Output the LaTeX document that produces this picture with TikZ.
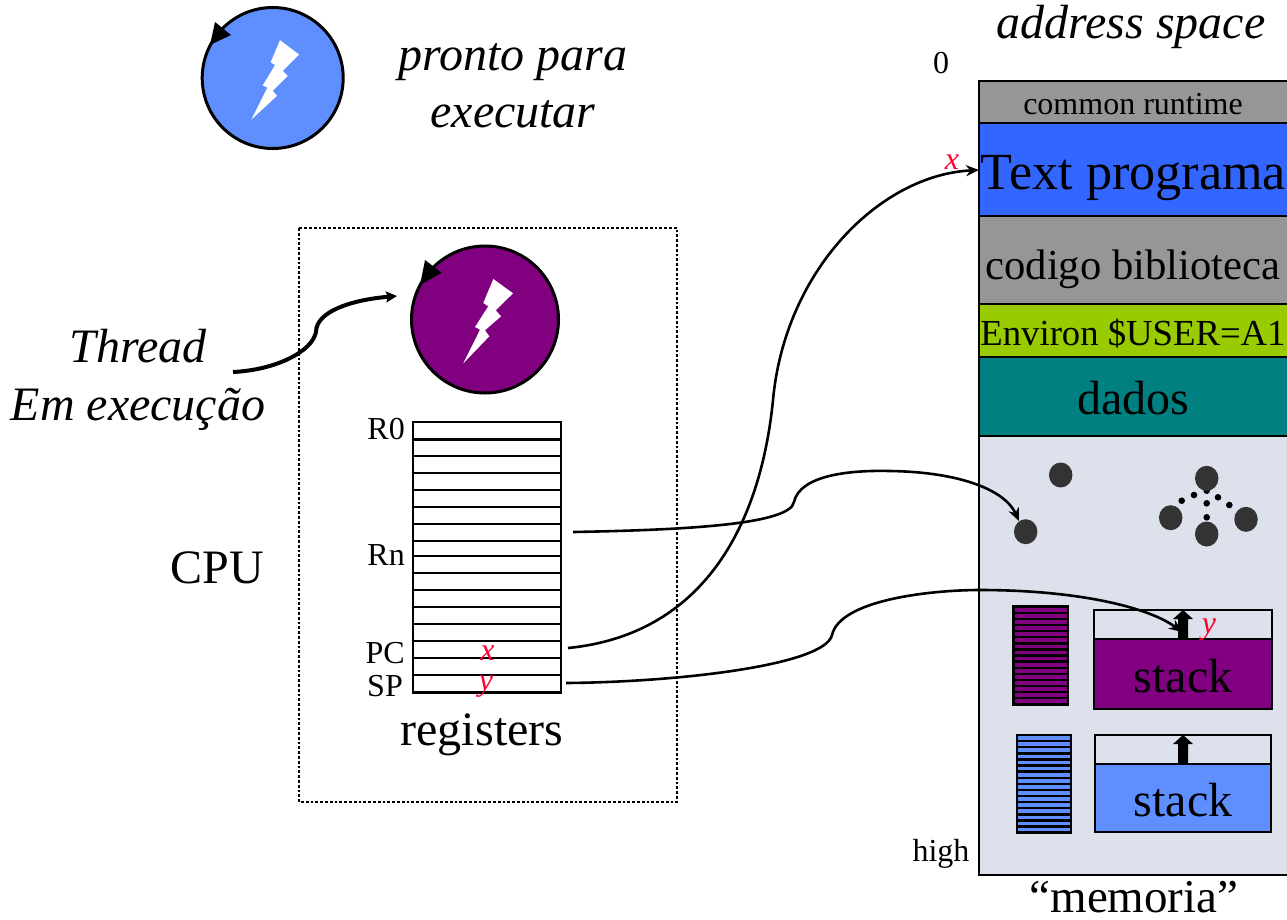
\documentclass[tikz,border=0pt]{standalone}
\usepackage{fontspec}
\setmainfont{Liberation Serif}
\usetikzlibrary{arrows.meta,shapes.geometric}
\definecolor{ltblue}{HTML}{5F8FFF}
\definecolor{txtblue}{HTML}{3366FF}
\definecolor{purp}{HTML}{800080}
\definecolor{grayseg}{HTML}{969696}
\definecolor{envgreen}{HTML}{99CC00}
\definecolor{teal2}{HTML}{008080}
\definecolor{heapbg}{HTML}{DDE1EC}
\definecolor{ballc}{HTML}{333333}
\definecolor{redx}{HTML}{FF0033}
\tikzset{
  lab/.style={inner sep=0pt,anchor=base,font=\fontsize{48}{50}\selectfont},
  labit/.style={lab,font=\fontsize{48}{50}\selectfont\itshape},
  small/.style={inner sep=0pt,anchor=base,font=\fontsize{32}{34}\selectfont},
  redit/.style={inner sep=0pt,anchor=base,text=redx,font=\fontsize{32}{34}\selectfont\itshape},
  seg/.style={draw=black,line width=2.6pt,fill=#1},
  ball/.style={fill=ballc,draw=none,shape=ellipse,minimum width=23.5pt,minimum height=25pt,inner sep=0pt},
  dotk/.style={fill=black,circle,draw=none,minimum size=6.6pt,inner sep=0pt},
  conn/.style={draw=black,line width=2.6pt,-{Stealth[length=13pt,width=11pt]}},
  stackarrow/.style={fill=black,draw=none},
  bolt/.style={fill=white,draw=none},
  threadc/.style={draw=black,line width=3pt,fill=#1}
}
\begin{document}
\begin{tikzpicture}[x=1pt,y=-1pt]
\useasboundingbox (0,0) rectangle (1287,919);
\fill[white] (0,0) rectangle (1287,919);

% blue thread
\node[threadc=ltblue,circle,minimum size=141pt,inner sep=0pt] (t1) at (272.7,78) {};
\fill[bolt] (280,40.2)--(299,54.5)--(282.7,70.8)--(287.7,75.8)--(272.7,90.8)--(277,95.8)--(251.4,119.5)--(267.4,87.5)--(262.7,85.5)--(275,65.2)--(270.7,62.2)--cycle;
\fill[black] (210,45)--(215,22)--(231,35)--cycle;
\node[labit] (t1a) at (513,70) {pronto para};
\node[labit] (t1b) at (513,127) {executar};

% CPU box
\draw[line width=2.8pt,dotted] (299,228) rectangle (677,802);
\node[threadc=purp,circle,minimum size=147pt,inner sep=0pt] (t2) at (485,319.5) {};
\fill[bolt] (493.3,279)--(513,293.3)--(495.7,310.3)--(501,316.3)--(485,330.3)--(489.3,336.3)--(463.3,363.3)--(480,329.7)--(475,327)--(488.3,306.3)--(483.3,303)--cycle;
\fill[black] (420,285)--(425,260)--(441.7,272.7)--cycle;

\node[labit] (thr1) at (138,362) {Thread};
\node[labit] (thr2) at (138,420) {Em execução};
\node[lab] (cpu) at (217.5,583) {CPU};

% registers
\node[draw=black,line width=2.6pt,minimum width=148pt,minimum height=270.6pt,inner sep=0pt] (regs) at (487,557.3) {};
\foreach \yy in {439.3,456,473,490,507,524,541,556,573,590,607,624,641,658,675}
  \draw[line width=2.6pt] (413,\yy) -- (561,\yy);
\node[small,anchor=base east] (r0) at (405,439) {R0};
\node[small,anchor=base east] (rn) at (405,565) {Rn};
\node[small,anchor=base east] (pc) at (405,663) {PC};
\node[small,anchor=base east] (sp) at (403,696) {SP};
\node[redit] (xr) at (487.5,660) {x};
\node[redit] (yr) at (486,690) {y};
\node[lab] (regl) at (482,745) {registers};

% memory
\draw[seg=heapbg] (979,436) rectangle (1290,875);
\draw[seg=grayseg] (979,81) rectangle (1290,123);
\draw[seg=txtblue] (979,123) rectangle (1290,216);
\draw[seg=grayseg] (979,216) rectangle (1290,304);
\draw[seg=envgreen] (979,304) rectangle (1290,357);
\draw[seg=teal2] (979,357) rectangle (1290,436);

\node[labit] (addr) at (1131,38) {address space};
\node[small] (zero) at (941,73) {0};
\node[redit] (xm) at (952,169) {x};
\node[small] (high) at (941,861) {high};
\node[lab,font=\fontsize{47}{50}\selectfont] (memo) at (1134,912) {“memoria”};
\node[small] (cr) at (1133,114) {common runtime};
\node[inner sep=0pt,anchor=base,font=\fontsize{52.2}{54}\selectfont] (tp) at (1133.5,189) {Text programa};
\node[inner sep=0pt,anchor=base,font=\fontsize{42.7}{45}\selectfont] (cb) at (1133,279) {codigo biblioteca};
\node[inner sep=0pt,anchor=base,font=\fontsize{36.7}{38}\selectfont] (env) at (1133,345) {Environ \$USER=A1};
\node[lab] (dados) at (1133,414) {dados};

% heap
\node[ball] (b1) at (1060.7,475) {};
\node[ball] (b2) at (1025.7,531.7) {};
\node[dotk] (d3) at (1206.7,490.7) {};
\node[ball] (b3) at (1206.7,478.3) {};
\node[ball] (b4) at (1170.7,517.7) {};
\node[ball] (b5) at (1246,519.3) {};
\node[ball] (b6) at (1206.7,534) {};
\node[dotk] (d1) at (1181.7,500.7) {};
\node[dotk] (d2) at (1194,495) {};
\node[dotk] (d4) at (1218,497.3) {};
\node[dotk] (d5) at (1229.3,505) {};
\node[dotk] (d6) at (1206.7,503.3) {};
\node[dotk] (d7) at (1206.7,517.3) {};

% striped register copies
\fill[purp] (1013.3,606.7) rectangle (1068,704.3);
\foreach \i in {1,...,15}
  \draw[line width=2.4pt] (1013.3,606.7+\i*6.1) -- (1068,606.7+\i*6.1);
\draw[line width=2.6pt] (1013.3,606.7) rectangle (1068,704.3);
\fill[ltblue] (1017,735) rectangle (1071,832.7);
\foreach \i in {1,...,15}
  \draw[line width=2.4pt] (1017,735+\i*6.1) -- (1071,735+\i*6.1);
\draw[line width=2.6pt] (1017,735) rectangle (1071,832.7);

% stacks
\draw[line width=2.8pt] (1094,610) rectangle (1272,639);
\draw[seg=purp,line width=2.8pt] (1094,639) rectangle (1272,709);
\fill[stackarrow] (1178,639)--(1178,619)--(1173,619)--(1183,610)--(1193,619)--(1188,619)--(1188,639)--cycle;
\node[lab] (s1) at (1183,692) {stack};
\node[redit] (ys) at (1209,633) {y};

\draw[line width=2.8pt] (1095,735) rectangle (1271,764);
\draw[seg=ltblue,line width=2.8pt] (1095,764) rectangle (1271,832);
\fill[stackarrow] (1178,764)--(1178,744)--(1173,744)--(1183,735)--(1193,744)--(1188,744)--(1188,764)--cycle;
\node[lab] (s2) at (1183,816) {stack};

% connector anchors
\coordinate (thrS) at (233,372);
\coordinate (thrE) at (397,296);
\coordinate (pcS) at (568,648);
\coordinate (pcE) at (979,170);
\coordinate (rnS) at (573,532);
\coordinate (rnE) at (1019,521);
\coordinate (spS) at (566,683);
\coordinate (spE) at (1182,632);

\draw[line width=4pt,-{Stealth[length=11pt,width=11pt,inset=2pt]}] (thrS) .. controls (275,370) and (312,352) .. (316,332) .. controls (316,312) and (350,300) .. (thrE);
\draw[conn] (pcS) .. controls (700,635) and (760,530) .. (773,400) .. controls (785,270) and (880,175) .. (pcE);
\draw[conn] (rnS) .. controls (680,530) and (790,525) .. (794,502) .. controls (800,475) and (850,470) .. (890,471) .. controls (960,472) and (1005,490) .. (rnE);
\draw[conn] (spS) .. controls (680,682) and (825,665) .. (832,635) .. controls (840,600) and (930,590) .. (980,590) .. controls (1080,590) and (1150,608) .. (spE);
\end{tikzpicture}
\end{document}
